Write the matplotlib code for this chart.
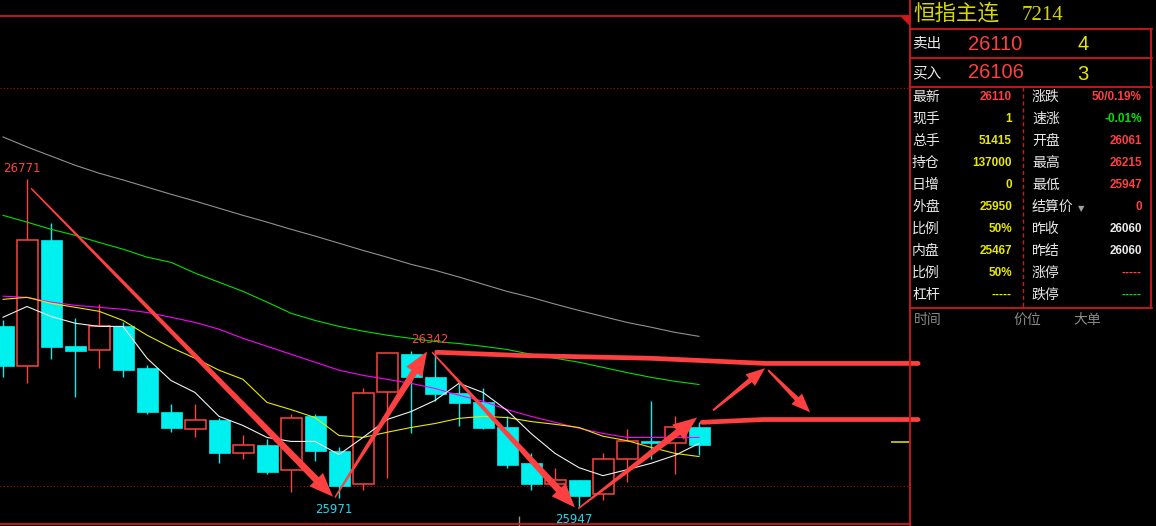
import numpy as np
import matplotlib
matplotlib.use('Agg')
import matplotlib.pyplot as plt
from matplotlib.patches import Rectangle, Polygon
from matplotlib.lines import Line2D
from matplotlib.transforms import IdentityTransform

plt.rcParams['font.family'] = ['Noto Sans CJK SC', 'DejaVu Sans']

# candles
opens = [26401, 26301, 26618, 26353, 26341, 26401, 26296, 26187, 26142, 26165,
         26084, 26102, 26039, 26175, 26087, 26004, 26235, 26331, 26273, 26233,
         26210, 26147, 26059, 26006, 26014, 25979, 26067, 26112, 26107, 26147]
highs = [26416, 26771, 26660, 26421, 26457, 26411, 26303, 26205, 26205, 26170,
         26127, 26117, 26182, 26180, 26097, 26245, 26333, 26338, 26342, 26260,
         26245, 26177, 26084, 26046, 26014, 26082, 26142, 26213, 26177, 26160]
lows = [26273, 26260, 26318, 26223, 26296, 26273, 26180, 26135, 26122, 26059,
        26069, 26031, 25986, 26064, 25971, 25991, 26019, 26132, 26213, 26152,
        26142, 26046, 25991, 26006, 25947, 25966, 26011, 26067, 26031, 26079]
closes = [26301, 26618, 26348, 26338, 26401, 26291, 26187, 26145, 26165, 26084,
          26102, 26036, 26172, 26087, 25999, 26233, 26333, 26275, 26230, 26208,
          26145, 26054, 26006, 26014, 25976, 26067, 26112, 26107, 26147, 26104]

ma_white = [26424, 26451, 26426, 26409, 26401, 26401, 26321, 26265, 26235, 26175,
            26152, 26122, 26112, 26112, 26079, 26122, 26167, 26187, 26215, 26258,
            26235, 26190, 26132, 26082, 26046, 26026, 26041, 26057, 26077, 26107]
ma_yellow = [26469, 26474, 26459, 26449, 26439, 26416, 26379, 26348, 26321, 26291,
             26268, 26210, 26192, 26172, 26127, 26122, 26135, 26147, 26157, 26170,
             26175, 26172, 26162, 26155, 26147, 26125, 26114, 26097, 26082, 26074]
ma_magenta = [26477, 26474, 26462, 26454, 26449, 26444, 26436, 26424, 26411, 26394,
              26371, 26351, 26331, 26311, 26291, 26278, 26268, 26258, 26245, 26228,
              26213, 26192, 26175, 26160, 26145, 26132, 26122, 26122, 26122, 26122]
ma_green = [26680, 26663, 26645, 26630, 26612, 26595, 26575, 26562, 26535, 26512,
            26489, 26462, 26434, 26416, 26401, 26389, 26379, 26371, 26363, 26358,
            26351, 26343, 26331, 26321, 26311, 26298, 26285, 26273, 26263, 26255]
ma_gray = [26877, 26852, 26829, 26806, 26786, 26769, 26751, 26733, 26716, 26698,
           26680, 26663, 26645, 26628, 26610, 26592, 26575, 26557, 26542, 26525,
           26507, 26489, 26474, 26457, 26441, 26426, 26411, 26399, 26386, 26376]

grid_levels = [27000, 26000]
last_price = 26110

# extreme labels: (candle index, price, is_high)
extremes = [(1, 26771, True), (14, 25971, False), (18, 26342, True), (24, 25947, False)]

# hand drawn arrows (candle index, price)
arrows = [((1.17, 26748), (13.75, 25973)),
          ((13.83, 25971), (17.67, 26338)),
          ((17.88, 26336), (23.83, 25946)),
          ((23.96, 25943), (28.92, 26172)),
          ((29.58, 26190), (31.75, 26296)),
          ((31.88, 26291), (33.63, 26185))]
level_a_x = [18.08, 21.54, 26.96, 31.75, 38.13]
level_a_y = [26336, 26328, 26321, 26308, 26308]
level_b_x = [29.13, 31.67, 38.13]
level_b_y = [26160, 26167, 26167]

# quote panel
left_labels = ['最新', '现手', '总手', '持仓', '日增', '外盘', '比例', '内盘', '比例', '杠杆']
left_values = ['26110', '1', '51415', '137000', '0', '25950', '50%', '25467', '50%', '-----']
right_labels = ['涨跌', '速涨', '开盘', '最高', '最低', '结算价', '昨收', '昨结', '涨停', '跌停']
right_values = ['50/0.19%', '-0.01%', '26061', '26215', '25947', '0', '26060', '26060', '-----', '-----']

RED = '#ff4040'
CYAN = '#00f0f0'
YEL = '#e8e800'
GRN = '#00e000'
WHT = '#e8e8e8'
BORDER = '#d01818'

left_colors = [RED, YEL, YEL, YEL, YEL, YEL, YEL, YEL, YEL, YEL]
right_colors = [RED, GRN, RED, RED, RED, RED, WHT, WHT, RED, GRN]

W, H = 1156, 526
fig = plt.figure(figsize=(W / 100, H / 100), dpi=100, facecolor='black')


def fx(px):
    return px / W


def fy(py):
    return 1 - py / H


ax = fig.add_axes([0, 0, 910 / W, 1])
ax.set_facecolor('black')
ax.set_xlim(-0.125, 37.79)
ax.set_ylim(25899.5, 27221.1)
ax.axis('off')

# candles
bw = 0.875
for i in range(len(opens)):
    o, h, l, c = opens[i], highs[i], lows[i], closes[i]
    if c > o:
        ax.vlines(i, l, h, color=RED, lw=1, zorder=1)
        ax.add_patch(Rectangle((i - bw / 2, o), bw, c - o, facecolor='black',
                               edgecolor=RED, lw=1.1, zorder=2))
    else:
        ax.vlines(i, l, h, color=CYAN, lw=1, zorder=1)
        ax.add_patch(Rectangle((i - bw / 2, c), bw, max(o - c, 2), facecolor=CYAN,
                               edgecolor=CYAN, lw=0.5, zorder=2))

x = np.arange(len(opens))
for vals, col in [(ma_gray, '#909090'), (ma_green, '#00e000'), (ma_magenta, '#ff00ff'),
                  (ma_yellow, '#e8e800'), (ma_white, '#f0f0f0')]:
    ax.plot(x, vals, color=col, lw=0.8, zorder=3)

for g in grid_levels:
    ax.axhline(g, color='#b01010', lw=0.8, ls=(0, (1, 2)), zorder=0)

ax.hlines(last_price, 37.0, 37.8, color='#e8e800', lw=1.1, zorder=3)

# small bar of the lower pane peeking in
ax.vlines(21.5, 25899.5, 25925, color='#909090', lw=1, zorder=1)

for i, p, is_high in extremes:
    col = RED if is_high else '#20d8f0'
    ax.annotate(str(p), (i, p), xytext=(-4, 3 if is_high else -4), textcoords='offset points',
                ha='center', va='bottom' if is_high else 'top', color=col, fontsize=8.5,
                family=['DejaVu Sans'], zorder=6)


def taper_arrow(p0, p1, w0=1.5, w1=7.0, hw=19.0, hl=24.0):
    a = ax.transData.transform(p0)
    b = ax.transData.transform(p1)
    d = b - a
    u = d / np.hypot(*d)
    n = np.array([-u[1], u[0]])
    base = b - u * hl
    pts = [a + n * w0 / 2, base + n * w1 / 2, base + n * hw / 2, b,
           base - n * hw / 2, base - n * w1 / 2, a - n * w0 / 2]
    ax.add_patch(Polygon(pts, closed=True, transform=IdentityTransform(),
                         facecolor=RED, edgecolor='none', zorder=5))


for k, (p0, p1) in enumerate(arrows):
    if k >= 4:
        taper_arrow(p0, p1, w0=2, w1=5, hw=15, hl=19)
    else:
        taper_arrow(p0, p1)

ax.plot(level_a_x, level_a_y, color=RED, lw=3.4, solid_capstyle='round', zorder=5, clip_on=False)
ax.plot(level_b_x, level_b_y, color=RED, lw=3.4, solid_capstyle='round', zorder=5, clip_on=False)

# frame lines in pixels
lines = [((0, 910), (16, 16)), ((0, 910), (524, 524)), ((910, 910), (0, 526)),
         ((910, 1152), (29, 29)), ((910, 1152), (58, 58)), ((910, 1152), (87, 87)),
         ((910, 1152), (308, 308)), ((1151, 1151), (29, 308))]
for (xa, xb), (ya, yb) in lines:
    fig.add_artist(Line2D([fx(xa), fx(xb)], [fy(ya), fy(yb)], color=BORDER, lw=1.3))
fig.add_artist(Line2D([fx(1023), fx(1023)], [fy(87), fy(307)], color=BORDER, lw=1,
                      ls=(0, (3, 2))))
fig.add_artist(Polygon([(fx(900), fy(16)), (fx(910), fy(16)), (fx(910), fy(26))],
                       closed=True, facecolor=BORDER, edgecolor='none'))

# panel texts
fig.text(fx(913), fy(14), '恒指主连', color='#d8d800', fontsize=15.5, va='center', ha='left')
fig.text(fx(1022), fy(15), '7214', color='#d8d800', fontsize=15, va='center', ha='left',
         family=['Liberation Serif'])

fig.text(fx(912), fy(44), '卖出', color=WHT, fontsize=10.5, va='center')
fig.text(fx(968), fy(44), '26110', color=RED, fontsize=14.5, va='center', family=['Liberation Sans'])
fig.text(fx(1077), fy(45), '4', color=YEL, fontsize=14.5, va='center', family=['Liberation Sans'])
fig.text(fx(912), fy(73), '买入', color=WHT, fontsize=10.5, va='center')
fig.text(fx(968), fy(73), '26106', color=RED, fontsize=14.5, va='center', family=['Liberation Sans'])
fig.text(fx(1077), fy(74), '3', color=YEL, fontsize=14.5, va='center', family=['Liberation Sans'])

row_y = [97, 119, 141, 163, 185, 207, 229, 251, 273, 295]
for k, yy in enumerate(row_y):
    fig.text(fx(912), fy(yy), left_labels[k], color=WHT, fontsize=10, va='center')
    fig.text(fx(1012), fy(yy), left_values[k], color=left_colors[k], fontsize=8.5,
             fontweight='bold', va='center', ha='right', family=['Liberation Sans'])
    fig.text(fx(1032), fy(yy), right_labels[k], color=WHT, fontsize=10, va='center')
    fig.text(fx(1142), fy(yy), right_values[k], color=right_colors[k], fontsize=8.5,
             fontweight='bold', va='center', ha='right', family=['Liberation Sans'])
fig.text(fx(1078), fy(209), '▼', color='#a0a0a0', fontsize=6, va='center', family=['DejaVu Sans'])

for label, xx in [('时间', 914), ('价位', 1013), ('大单', 1073)]:
    fig.text(fx(xx), fy(320), label, color='#8a8a8a', fontsize=10, va='center')

fig.savefig('out.png', dpi=100, facecolor='black')
